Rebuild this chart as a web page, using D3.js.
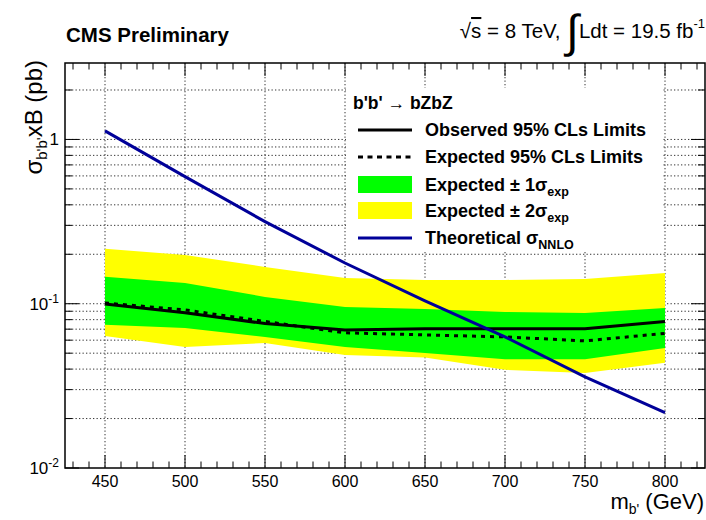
<!DOCTYPE html>
<html>
<head>
<meta charset="utf-8">
<title>b'b' limits</title>
<script src="https://cdn.jsdelivr.net/npm/d3@7"></script>
<style>
  body { margin: 0; background: #fff; }
  text { font-family: "Liberation Sans", Arial, Helvetica, sans-serif; }
</style>
</head>
<body>
<script>
// masses (GeV)
var masses = [450, 500, 550, 600, 650, 700, 750, 800];
// cross section limits (pb)
var observed = [0.0997, 0.088, 0.0757, 0.0693, 0.0703, 0.0703, 0.0703, 0.078];
var expected = [0.101, 0.0917, 0.078, 0.0665, 0.0646, 0.0628, 0.0594, 0.066];
var sig1Up = [0.146, 0.1338, 0.110, 0.0956, 0.0930, 0.0891, 0.0879, 0.0943];
var sig1Dn = [0.0744, 0.0712, 0.0628, 0.0546, 0.0502, 0.0460, 0.0460, 0.0538];
var sig2Up = [0.216, 0.198, 0.1674, 0.1435, 0.1396, 0.1396, 0.1416, 0.154];
var sig2Dn = [0.0637, 0.0546, 0.0577, 0.0488, 0.0470, 0.0396, 0.0379, 0.0437];
var theory = [1.127, 0.594, 0.316, 0.177, 0.104, 0.0628, 0.0359, 0.0217];
var xTicks = [450, 500, 550, 600, 650, 700, 750, 800];

var width = 706, height = 520;
var svg = d3.select("body").append("svg")
    .attr("width", width).attr("height", height);

var L = 65, R = 705, T = 63, B = 468;
var x = d3.scaleLinear().domain([425, 825]).range([L, R]);
var y = d3.scaleLog().domain([0.01, 2.92]).range([B, T]);

// grid
var yGrid = [];
[0.01, 0.1, 1].forEach(function(d) {
    for (var k = 1; k <= 9; k++) { var v = d * k; if (v <= 2.92 && v > 0.01) yGrid.push(v); }
});
svg.append("g").selectAll("line").data(yGrid).enter().append("line")
    .attr("x1", L).attr("x2", R)
    .attr("y1", function(d) { return y(d); }).attr("y2", function(d) { return y(d); })
    .attr("stroke", "#333").attr("stroke-width", 1).attr("stroke-dasharray", "1.3,2.2");
svg.append("g").selectAll("line").data(xTicks).enter().append("line")
    .attr("y1", T).attr("y2", B)
    .attr("x1", function(d) { return x(d); }).attr("x2", function(d) { return x(d); })
    .attr("stroke", "#333").attr("stroke-width", 1).attr("stroke-dasharray", "1.3,2.2");

// bands
var band = function(up, dn) {
    return d3.area()
        .x(function(d, i) { return x(masses[i]); })
        .y0(function(d, i) { return y(dn[i]); })
        .y1(function(d, i) { return y(up[i]); })(masses);
};
svg.append("path").attr("d", band(sig2Up, sig2Dn)).attr("fill", "#ffff00");
svg.append("path").attr("d", band(sig1Up, sig1Dn)).attr("fill", "#00ff00");

var line = d3.line()
    .x(function(d, i) { return x(masses[i]); })
    .y(function(d) { return y(d); });

svg.append("path").attr("d", line(expected)).attr("fill", "none")
    .attr("stroke", "#000").attr("stroke-width", 3).attr("stroke-dasharray", "4,5");
svg.append("path").attr("d", line(observed)).attr("fill", "none")
    .attr("stroke", "#000").attr("stroke-width", 3);
svg.append("path").attr("d", line(theory)).attr("fill", "none")
    .attr("stroke", "#000099").attr("stroke-width", 3);

// legend
var lg = svg.append("g");
lg.append("rect").attr("x", 346).attr("y", 88).attr("width", 316).attr("height", 163).attr("fill", "#fff");
lg.append("text").attr("x", 353).attr("y", 109).attr("font-size", 17.5).attr("font-weight", "bold")
    .text("b'b' \u2192 bZbZ");
var rows = [
    { y: 130, type: "line", color: "#000", dash: null, label: ["Observed 95% CLs Limits"] },
    { y: 157, type: "line", color: "#000", dash: "5,4.5", label: ["Expected 95% CLs Limits"] },
    { y: 185, type: "box", color: "#00ff00", label: ["Expected \u00b1 1\u03c3", "exp"] },
    { y: 211, type: "box", color: "#ffff00", label: ["Expected \u00b1 2\u03c3", "exp"] },
    { y: 238, type: "line", color: "#000099", dash: null, label: ["Theoretical \u03c3", "NNLO"] }
];
rows.forEach(function(r) {
    if (r.type == "line") {
        lg.append("line").attr("x1", 358).attr("x2", 412).attr("y1", r.y).attr("y2", r.y)
            .attr("stroke", r.color).attr("stroke-width", 3)
            .attr("stroke-dasharray", r.dash);
    } else {
        lg.append("rect").attr("x", 358).attr("y", r.y - 9).attr("width", 54).attr("height", 17)
            .attr("fill", r.color);
    }
    var t = lg.append("text").attr("x", 425).attr("y", r.y + 6)
        .attr("font-size", 18).attr("font-weight", "bold");
    t.append("tspan").text(r.label[0]);
    if (r.label[1]) t.append("tspan").attr("dy", 5).attr("font-size", 12.5).text(r.label[1]);
});

// frame
svg.append("rect").attr("x", L).attr("y", T).attr("width", R - L).attr("height", B - T)
    .attr("fill", "none").attr("stroke", "#000").attr("stroke-width", 1.5);

// x ticks
var xMinor = d3.range(430, 825, 10);
var tk = svg.append("g").attr("stroke", "#000").attr("stroke-width", 1);
xMinor.forEach(function(v) {
    var len = (v % 50 == 0) ? 13 : 6.5;
    tk.append("line").attr("x1", x(v)).attr("x2", x(v)).attr("y1", B).attr("y2", B - len);
    tk.append("line").attr("x1", x(v)).attr("x2", x(v)).attr("y1", T).attr("y2", T + len);
});
// y ticks
var yMinor = [];
[0.01, 0.1, 1].forEach(function(d) {
    for (var k = 1; k <= 9; k++) { var v = d * k; if (v <= 2.92) yMinor.push(v); }
});
yMinor.forEach(function(v) {
    var len = (Math.abs(Math.log10(v) - Math.round(Math.log10(v))) < 1e-6) ? 14 : 7;
    tk.append("line").attr("x1", L).attr("x2", L + len).attr("y1", y(v)).attr("y2", y(v));
    tk.append("line").attr("x1", R).attr("x2", R - len).attr("y1", y(v)).attr("y2", y(v));
});

// x tick labels
svg.append("g").selectAll("text").data(xTicks).enter().append("text")
    .attr("x", function(d) { return x(d); }).attr("y", 487)
    .attr("text-anchor", "middle").attr("font-size", 16)
    .text(function(d) { return d; });

// y tick labels
var yLabels = [{ v: 1, base: "1", exp: null }, { v: 0.1, base: "10", exp: "-1" }, { v: 0.01, base: "10", exp: "-2" }];
yLabels.forEach(function(d) {
    var t = svg.append("text").attr("x", 59).attr("y", y(d.v) + 6)
        .attr("text-anchor", "end").attr("font-size", 17);
    t.append("tspan").text(d.base);
    if (d.exp) t.append("tspan").attr("dy", -7).attr("font-size", 12).text(d.exp);
});

// axis titles
var xt = svg.append("text").attr("x", 704).attr("y", 509).attr("text-anchor", "end").attr("font-size", 22);
xt.append("tspan").text("m");
xt.append("tspan").attr("dy", 5).attr("font-size", 14).text("b'");
xt.append("tspan").attr("dy", -5).text(" (GeV)");

var yt = svg.append("text").attr("transform", "translate(42,60) rotate(-90)")
    .attr("text-anchor", "end").attr("font-size", 24);
yt.append("tspan").text("\u03c3");
yt.append("tspan").attr("dy", 5).attr("font-size", 15).text("b'b'");
yt.append("tspan").attr("dy", -5).text("xB (pb)");

// header
svg.append("text").attr("x", 66).attr("y", 42).attr("font-size", 20.5).attr("font-weight", "bold")
    .text("CMS Preliminary");
var hd = svg.append("text").attr("x", 705).attr("y", 38).attr("text-anchor", "end").attr("font-size", 20.5);
hd.append("tspan").text("\u221a");
hd.append("tspan").attr("text-decoration", "overline").text("s");
hd.append("tspan").text(" = 8 TeV, ");
hd.append("tspan").attr("font-size", 46).attr("dy", 9).text("\u222b");
hd.append("tspan").attr("dy", -9).text("Ldt = 19.5 fb");
hd.append("tspan").attr("dy", -10).attr("font-size", 13).text("-1");
</script>
</body>
</html>
